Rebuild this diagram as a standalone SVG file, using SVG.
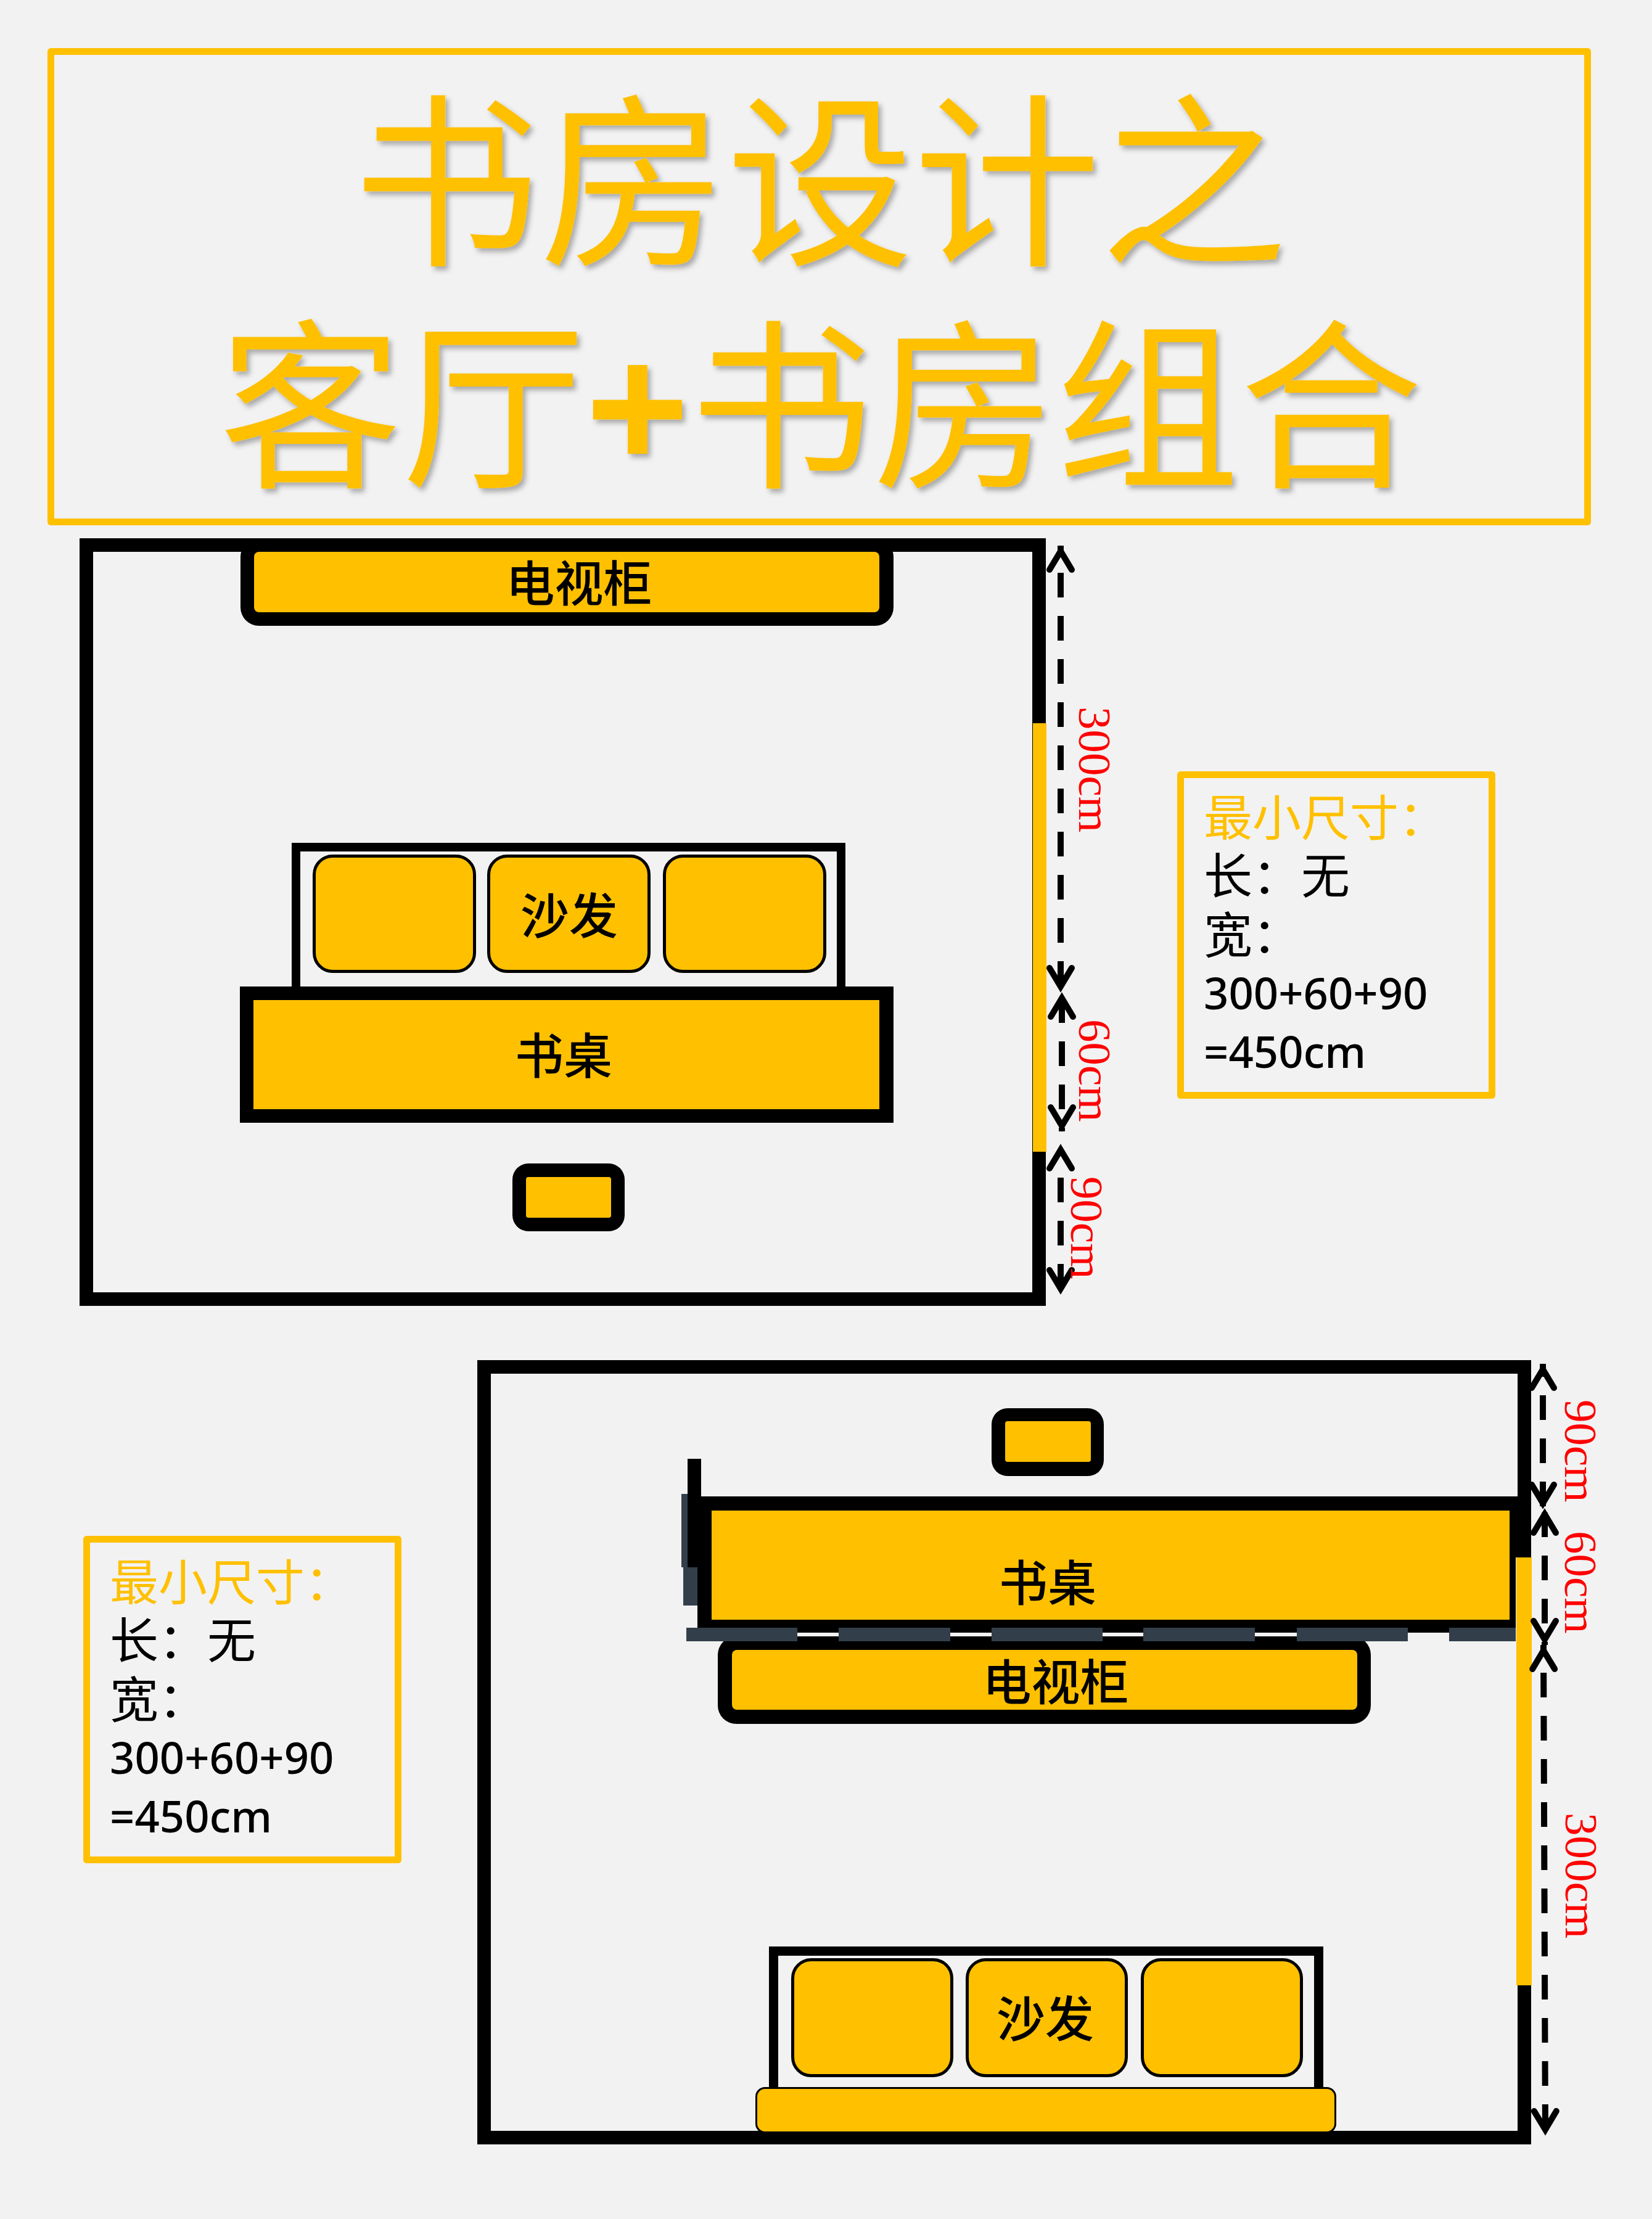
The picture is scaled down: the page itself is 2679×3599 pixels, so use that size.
<svg xmlns="http://www.w3.org/2000/svg" width="2679" height="3599" viewBox="0 0 2679 3599">
<defs>
<style>
.cjk{font-family:"Noto Sans CJK SC","Noto Sans CJK JP",sans-serif}
.gold{fill:#FFC000}
.blk{fill:#000}
.frame{fill:none;stroke:#FFC000;stroke-width:11;stroke-linejoin:round}
.wall{fill:none;stroke:#000;stroke-width:22;stroke-linejoin:miter}
.cush{fill:#FFC000;stroke:#000;stroke-width:5}
.title{fill:#FFC000;filter:url(#sh);text-anchor:middle}
.lbl{font-size:79px;fill:#000;text-anchor:middle;font-weight:500}
.info{font-size:79px}
.num{font-family:"Noto Sans",sans-serif;font-size:70.6px;font-weight:500;fill:#000}
.red{font-family:"Liberation Serif",serif;font-size:75px;fill:#F00}
.dim{fill:none;stroke:#000;stroke-width:10;stroke-dasharray:40 30;marker-start:url(#hd);marker-end:url(#hd)}
.ink{fill:#323F4A}
</style>
<filter id="sh" x="-5%" y="-5%" width="110%" height="115%"><feDropShadow dx="5" dy="6" stdDeviation="4" flood-color="#000" flood-opacity="0.3"/></filter>
<marker id="hd" markerUnits="userSpaceOnUse" viewBox="-50 -30 60 60" refX="0" refY="0" markerWidth="60" markerHeight="60" orient="auto-start-reverse"><path d="M-39,-18L-9,0L-39,18" fill="none" stroke="#000" stroke-width="10" stroke-linecap="round"/></marker>
</defs>
<rect width="2679" height="3599" fill="#F2F2F2"/>
<g id="title">
<rect class="frame" x="82.500" y="83.500" width="2492" height="763"/>
<text class="title cjk" x="1330" y="408" font-size="303">书房设计之</text>
<text class="title cjk" x="1331" y="769" font-size="297">客厅<tspan font-family="Noto Sans" font-weight="700">+</tspan>书房组合</text>
</g>
<g id="room-1">
<rect class="wall" x="140" y="884" width="1545" height="1223"/>
<rect class="gold" x="1675" y="1173" width="22" height="695"/>
</g>
<g id="tv-1">
<rect x="390" y="873" width="1059" height="142" rx="30" fill="#000"/>
<rect x="380" y="873" width="1079" height="22" fill="#000"/>
<rect class="gold" x="412" y="895" width="1014" height="98" rx="8"/>
<text class="lbl cjk" x="939" y="976">电视柜</text>
</g>
<g id="sofa-1">
<rect x="480" y="1374" width="884" height="240" fill="none" stroke="#000" stroke-width="14"/>
<rect class="cush" x="509.500" y="1388.500" width="260" height="187" rx="30"/>
<rect class="cush" x="792.500" y="1388.500" width="260" height="187" rx="30"/>
<rect class="cush" x="1077.500" y="1388.500" width="260" height="187" rx="30"/>
<text class="lbl cjk" x="923" y="1515">沙发</text>
</g>
<g id="desk-1">
<rect x="389" y="1600" width="1060" height="221" fill="#000"/>
<rect class="gold" x="411" y="1622" width="1015" height="177"/>
<text class="lbl cjk" x="914" y="1742">书桌</text>
</g>
<g id="chair-1">
<rect x="831" y="1887" width="182" height="110" rx="26" fill="#000"/>
<rect class="gold" x="853" y="1909" width="138" height="66" rx="4"/>
</g>
<g id="info-1">
<rect class="frame" x="1914.500" y="1256.500" width="505" height="520"/>
<text class="info cjk gold" x="1952" y="1356">最小尺寸&#xFF1A;</text>
<text class="info cjk blk" x="1952" y="1450">长&#xFF1A;无</text>
<text class="info cjk blk" x="1952" y="1546">宽&#xFF1A;</text>
<text class="num" x="1952" y="1637">300+60+90</text>
<text class="num" x="1952" y="1732">=450cm</text>
</g>
<g id="room-2">
<rect class="wall" x="785" y="2217" width="1687" height="1250"/>
<rect class="gold" x="2459" y="2526" width="25" height="694"/>
</g>
<g id="chair-2">
<rect x="1608" y="2284" width="182" height="110" rx="26" fill="#000"/>
<rect class="gold" x="1630" y="2305" width="139" height="66" rx="4"/>
</g>
<g id="desk-2">
<rect class="ink" x="1105" y="2423" width="26" height="119"/>
<rect class="ink" x="1108" y="2542" width="23" height="62"/>
<rect x="1115" y="2366" width="22" height="176" fill="#000"/>
<rect x="1131" y="2427" width="1327" height="221" fill="#000"/>
<rect x="2448" y="2427" width="35" height="99" fill="#000"/>
<rect class="gold" x="1154" y="2450" width="1294" height="177"/>
<text class="lbl cjk" x="1699" y="2597">书桌</text>
</g>
<g id="tv-2">
<rect x="1164" y="2654" width="1059" height="142" rx="30" fill="#000"/>
<rect class="gold" x="1187" y="2676" width="1014" height="97" rx="8"/>
<text class="lbl cjk" x="1712" y="2758">电视柜</text>
</g>
<g id="partition">
<rect class="ink" x="1113" y="2640" width="180" height="22"/>
<rect class="ink" x="1360" y="2640" width="181" height="22"/>
<rect class="ink" x="1608" y="2640" width="180" height="22"/>
<rect class="ink" x="1854" y="2640" width="181" height="22"/>
<rect class="ink" x="2103" y="2640" width="180" height="22"/>
<rect class="ink" x="2350" y="2640" width="108" height="22"/>
</g>
<g id="sofa-2">
<rect x="1254.500" y="3164.500" width="884" height="240" fill="none" stroke="#000" stroke-width="15"/>
<rect class="cush" x="1285.500" y="3178.500" width="258" height="188" rx="30"/>
<rect class="cush" x="1568.500" y="3178.500" width="258" height="188" rx="30"/>
<rect class="cush" x="1852.500" y="3178.500" width="258" height="188" rx="30"/>
<rect x="1226.500" y="3386.500" width="939" height="72" rx="14" fill="#FFC000" stroke="#000" stroke-width="3"/>
<text class="lbl cjk" x="1695" y="3304">沙发</text>
</g>
<g id="info-2">
<rect class="frame" x="140.500" y="2496.500" width="505" height="520"/>
<text class="info cjk gold" x="178" y="2596">最小尺寸&#xFF1A;</text>
<text class="info cjk blk" x="178" y="2690">长&#xFF1A;无</text>
<text class="info cjk blk" x="178" y="2786">宽&#xFF1A;</text>
<text class="num" x="178" y="2877">300+60+90</text>
<text class="num" x="178" y="2972">=450cm</text>
</g>
<g id="connectors">
<line class="dim" x1="1720" y1="885" x2="1720" y2="1609" stroke-dashoffset="26"/>
<line class="dim" x1="1722" y1="1610" x2="1722" y2="1835" stroke-dashoffset="61"/>
<line class="dim" x1="1720" y1="1856" x2="1720" y2="2099" style="stroke-dasharray:0 54 40 30 40 30 40 30"/>
<line class="dim" x1="2502" y1="2212" x2="2502" y2="2447" stroke-dashoffset="19"/>
<line class="dim" x1="2505" y1="2447" x2="2505" y2="2668" stroke-dashoffset="64"/>
<line class="dim" x1="2503" y1="2668" x2="2506" y2="3463" stroke-dashoffset="25"/>
</g>
<g id="dimension-labels">
<text class="red" transform="translate(1750 1146) rotate(90)">300cm</text>
<text class="red" transform="translate(1750 1653) rotate(90)">60cm</text>
<text class="red" transform="translate(1737 1908) rotate(90)">90cm</text>
<text class="red" transform="translate(2538 2270) rotate(90)">90cm</text>
<text class="red" transform="translate(2538 2483) rotate(90)">60cm</text>
<text class="red" transform="translate(2539 2940) rotate(90)">300cm</text>
</g>
</svg>
